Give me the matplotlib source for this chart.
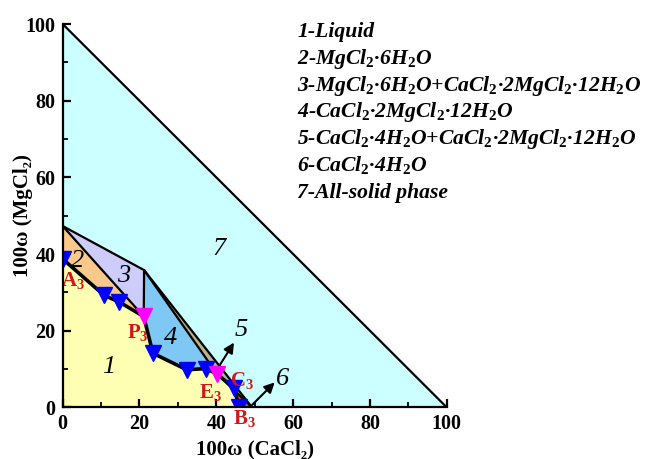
import matplotlib
matplotlib.use("Agg")
import matplotlib.pyplot as plt
from matplotlib.patches import Polygon

plt.rcParams['mathtext.fontset'] = 'custom'
plt.rcParams['mathtext.it'] = 'Liberation Serif:italic:bold'
plt.rcParams['mathtext.bf'] = 'Liberation Serif:bold'
plt.rcParams['mathtext.rm'] = 'Liberation Serif:bold'

SERIF = ['Liberation Serif', 'DejaVu Serif']

# Solubility isotherm (CaCl2 %, MgCl2 %)
curve_x = [0.0, 10.8, 14.7, 21.1, 23.5, 32.3, 37.3, 40.2, 44.6, 46.0]
curve_y = [38.7, 29.2, 27.5, 23.7, 14.1, 9.8, 10.1, 8.7, 5.0, 0.0]
invariant_idx = [3, 7]          # P3, E3
point_names = ['A', 'P', 'E', 'C', 'B']
point_label_xy = [(2.8, 33.0), (19.6, 19.6), (38.6, 3.9), (46.8, 7.0), (47.4, -3.0)]

# Solid phase compositions
mg6 = (0.0, 47.3)               # MgCl2·6H2O
tachy = (21.2, 35.8)            # CaCl2·2MgCl2·12H2O
ca4 = (49.3, 0.0)               # CaCl2·4H2O

region_colors = {
    1: '#ffffb4', 2: '#f9c98c', 3: '#cdccfb', 4: '#7fc7f4',
    5: '#b7b38c', 6: '#b5683a', 7: '#ccffff',
}
region_label_xy = {1: (11.9, 10.6), 2: (3.8, 38.2), 3: (15.8, 34.3),
                   4: (28.2, 18.1), 7: (40.6, 41.3)}
legend_lines = [
    '1-Liquid',
    '2-MgCl$_2$·6H$_2$O',
    '3-MgCl$_2$·6H$_2$O+CaCl$_2$·2MgCl$_2$·12H$_2$O',
    '4-CaCl$_2$·2MgCl$_2$·12H$_2$O',
    '5-CaCl$_2$·4H$_2$O+CaCl$_2$·2MgCl$_2$·12H$_2$O',
    '6-CaCl$_2$·4H$_2$O',
    '7-All-solid phase',
]
ticks = [0, 20, 40, 60, 80, 100]

fig = plt.figure(figsize=(6.49, 4.59), dpi=100)
ax = fig.add_axes([0.0966, 0.1126, 0.5917, 0.8350])
ax.set_xlim(0, 100)
ax.set_ylim(0, 100)

pts = list(zip(curve_x, curve_y))
P = pts[invariant_idx[0]]
E = pts[invariant_idx[1]]
iP, iE = invariant_idx

polys = {
    7: [(0, 100), (0, 0), (100, 0)],
    2: [mg6, P] + pts[iP - 1::-1],
    3: [mg6, tachy, P],
    4: [tachy] + pts[iP:iE + 1],
    5: [tachy, E, ca4],
    6: pts[iE:] + [ca4],
    1: [(0, 0)] + pts,
}
for key in [7, 2, 3, 4, 5, 6, 1]:
    ax.add_patch(Polygon(polys[key], closed=True, facecolor=region_colors[key],
                         edgecolor='none', zorder=1))

# Phase boundaries
edge = dict(color='black', lw=1.6, zorder=2, solid_capstyle='round')
ax.plot([0, 100], [100, 0], **edge)
ax.plot([mg6[0], tachy[0]], [mg6[1], tachy[1]], **edge)
ax.plot([mg6[0], P[0]], [mg6[1], P[1]], **edge)
ax.plot([tachy[0], P[0]], [tachy[1], P[1]], **edge)
ax.plot([tachy[0], E[0]], [tachy[1], E[1]], **edge)
ax.plot([tachy[0], ca4[0]], [tachy[1], ca4[1]], **edge)
ax.plot([E[0], ca4[0]], [E[1], ca4[1]], **edge)

# Isotherm
ax.plot(curve_x, curve_y, color='black', lw=2.6, zorder=3)
blue_idx = [i for i in range(len(curve_x)) if i not in invariant_idx]
ax.plot([curve_x[i] for i in blue_idx], [curve_y[i] for i in blue_idx],
        linestyle='none', marker='v', ms=11, color='#0000ff', zorder=4)
ax.plot([curve_x[i] for i in invariant_idx], [curve_y[i] for i in invariant_idx],
        linestyle='none', marker='v', ms=11, color='#ff00ff', zorder=4)

for name, (lx, ly) in zip(point_names, point_label_xy):
    ax.text(lx, ly, name + r'$_{\mathbf{3}}$', color='#d0181c', fontsize=15,
            fontweight='bold', family=SERIF, ha='center', va='center',
            zorder=6, clip_on=False)

for key, (lx, ly) in region_label_xy.items():
    ax.text(lx, ly, str(key), fontsize=19, style='italic', family=SERIF,
            ha='center', va='center', zorder=5)

arrow = dict(arrowstyle='-|>', color='black', lw=1.5, mutation_scale=15,
             shrinkA=0, shrinkB=0)
ax.annotate('', xy=(44.6, 16.9), xytext=(40.9, 11.0), arrowprops=arrow, zorder=5)
ax.text(46.4, 20.3, '5', fontsize=19, style='italic', family=SERIF,
        ha='center', va='center', zorder=5)
ax.annotate('', xy=(55.2, 6.5), xytext=(49.3, 0.6), arrowprops=arrow, zorder=5)
ax.text(57.3, 7.4, '6', fontsize=19, style='italic', family=SERIF,
        ha='center', va='center', zorder=5)

for s in ['top', 'right']:
    ax.spines[s].set_visible(False)
for s in ['left', 'bottom']:
    ax.spines[s].set_linewidth(1.6)
    ax.spines[s].set_zorder(7)
ax.set_xticks(ticks)
ax.set_yticks(ticks)
ax.set_xticks([10, 30, 50, 70, 90], minor=True)
ax.set_yticks([10, 30, 50, 70, 90], minor=True)
ax.tick_params(which='major', direction='in', length=6, width=1.6, pad=5)
ax.tick_params(which='minor', direction='in', length=3.5, width=1.3)
for lab in ax.get_xticklabels() + ax.get_yticklabels():
    lab.set_fontfamily(SERIF)
    lab.set_fontweight('bold')
    lab.set_fontsize(14.5)

ax.set_xlabel('100ω (CaCl₂)', fontsize=15, fontweight='bold', family=SERIF)
ax.set_ylabel('100ω (MgCl₂)', fontsize=15, fontweight='bold', family=SERIF)
ax.xaxis.set_label_coords(0.5, -0.111)
ax.yaxis.set_label_coords(-0.103, 0.5)
ax.xaxis.label.set_va('center')
ax.yaxis.label.set_va('center')

for i, line in enumerate(legend_lines):
    fig.text(297 / 649, 1 - (37 + 26.8 * i) / 459, line, fontsize=15.6,
             style='italic', fontweight='bold', family=SERIF,
             ha='left', va='baseline')

fig.savefig('out.png', dpi=100)
